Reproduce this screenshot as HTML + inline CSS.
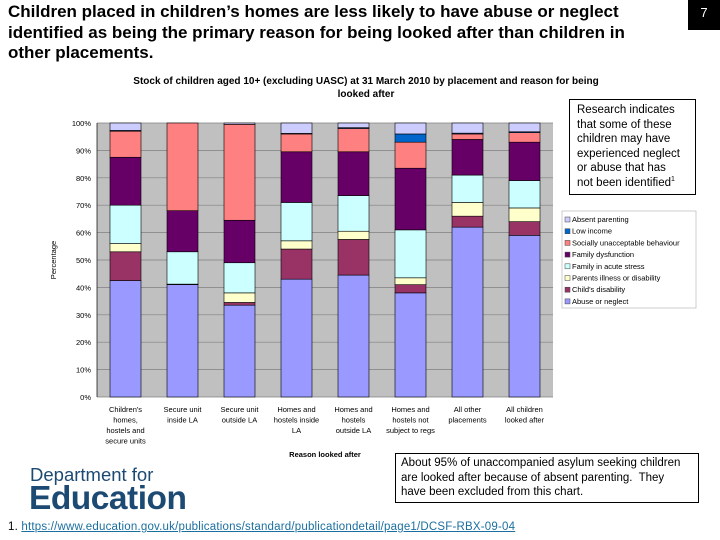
<!DOCTYPE html>
<html><head><meta charset="utf-8"><style>
body{margin:0;width:720px;height:540px;background:#fff;position:relative;overflow:hidden;font-family:"Liberation Sans",sans-serif}
.abs{position:absolute}
sup{line-height:0}
</style></head><body>
<div class="abs" style="left:8px;top:2px;width:680px;font-size:17px;font-weight:bold;line-height:20.5px;color:#000;white-space:nowrap">Children placed in children’s homes are less likely to have abuse or neglect<br>identified as being the primary reason for being looked after than children in<br>other placements.</div>
<div class="abs" style="left:688px;top:0;width:32px;height:30px;background:#000;color:#fff;font-size:13px;text-align:center;line-height:26px">7</div>
<div class="abs" style="left:569px;top:99px;width:118px;height:91px;border:1px solid #000;padding:3px 0 0 7px;font-size:11.5px;line-height:14.5px;white-space:nowrap">Research indicates<br>that some of these<br>children may have<br>experienced neglect<br>or abuse that has<br>not been identified<sup style="font-size:7px">1</sup></div>
<div class="abs" style="left:395px;top:453px;width:297px;height:46px;border:1px solid #000;padding:2px 0 0 5px;font-size:11.5px;line-height:14.5px;white-space:nowrap">About 95% of unaccompanied asylum seeking children<br>are looked after because of absent parenting.&nbsp; They<br>have been excluded from this chart.</div>
<div class="abs" style="left:30px;top:464px;font-size:18.5px;color:#1c4a72;line-height:22px">Department for</div>
<div class="abs" style="left:29px;top:478px;font-size:33.5px;font-weight:bold;color:#1c4a72;letter-spacing:-0.5px;line-height:42px">Education</div>
<div class="abs" style="left:8px;top:521px;font-size:11.5px;letter-spacing:0.2px">1. <a style="color:#1a6fa0;text-decoration:underline">https://www.education.gov.uk/publications/standard/publicationdetail/page1/DCSF-RBX-09-04</a></div>
<svg class="abs" style="left:0;top:0" width="720" height="540" id="chart"></svg>
<script>
const categories=[["Children's","homes,","hostels and","secure units"],["Secure unit","inside LA"],["Secure unit","outside LA"],["Homes and","hostels inside","LA"],["Homes and","hostels","outside LA"],["Homes and","hostels not","subject to regs"],["All other","placements"],["All children","looked after"]];
const seriesNames=["Abuse or neglect","Child's disability","Parents illness or disability","Family in acute stress","Family dysfunction","Socially unacceptable behaviour","Low income","Absent parenting"];
const abuse=[42.5,41,33.5,43,44.5,38,62,59];
const disability=[10.5,0.2,1,11,13,3,4,5];
const parents=[3,0,3.5,3,3,2.5,5,5];
const stress=[14,11.8,11,14,13,17.5,10,10];
const dysfunction=[17.5,15,15.5,18.5,16,22.5,13,14];
const social=[9.5,32,35,6.5,8.5,9.5,2,3.5];
const lowIncome=[0.3,0,0,0.2,0.3,3,0.3,0.3];
const absent=[2.7,0,0.5,3.8,1.7,4,3.7,3.2];
const yTicks=["0%","10%","20%","30%","40%","50%","60%","70%","80%","90%","100%"];
const series=[abuse,disability,parents,stress,dysfunction,social,lowIncome,absent];
const colors=["#9999ff","#993366","#ffffcc","#ccffff","#660066","#ff8080","#0066cc","#ccccff"];
const svg=document.getElementById('chart');const NS="http://www.w3.org/2000/svg";
function mk(t,a,p){const e=document.createElementNS(NS,t);for(const k in a)e.setAttribute(k,a[k]);(p||svg).appendChild(e);return e;}
const X0=97,X1=553,Y0=397,Y1=123;
const y=v=>Y0-(v/100)*(Y0-Y1);
const bw=(X1-X0)/categories.length;
const x=i=>X0+bw*i+bw/2;
let t=mk('text',{x:366,y:84,'font-size':10,'font-weight':'bold','text-anchor':'middle'});t.textContent="Stock of children aged 10+ (excluding UASC) at 31 March 2010 by placement and reason for being";

t=mk('text',{x:366,y:97,'font-size':10,'font-weight':'bold','text-anchor':'middle'});t.textContent="looked after";

let bg=mk('rect',{x:X0,y:Y1,width:X1-X0,height:Y0-Y1,fill:'#c0c0c0'});

yTicks.forEach((lab,i)=>{const v=i*10;
 const g=mk('line',{x1:X0,x2:X1,y1:y(v),y2:y(v),stroke:'#808080','stroke-width':0.7});
 
 const tx=mk('text',{x:X0-6,y:y(v)+3,'font-size':7.5,'text-anchor':'end',fill:'#000'});tx.textContent=lab;
 });
mk('line',{x1:X0,x2:X0,y1:Y1,y2:Y0,stroke:'#000','stroke-width':0.7});
categories.forEach((c,i)=>{let cum=0;
 series.forEach((s,k)=>{const v=s[i];if(v<=0)return;
  const r=mk('rect',{x:x(i)-15.5,y:y(cum+v),width:31,height:y(cum)-y(cum+v),fill:colors[k],stroke:'#000','stroke-width':0.6});
  cum+=v;});
 c.forEach((ln,j)=>{const tx=mk('text',{x:x(i),y:412+j*10.5,'font-size':7.5,'text-anchor':'middle'});tx.textContent=ln;
  });
});
t=mk('text',{x:325,y:457,'font-size':7.5,'font-weight':'bold','text-anchor':'middle'});t.textContent="Reason looked after";

t=mk('text',{x:56,y:260,'font-size':7.5,'text-anchor':'middle',transform:'rotate(-90 56 260)'});t.textContent="Percentage";

let lg=mk('rect',{x:562,y:211,width:134,height:97,fill:'#fff',stroke:'#c0c0c0','stroke-width':0.8});

for(let k=7;k>=0;k--){const row=7-k;const yy=222+row*11.7;
 const sw=mk('rect',{x:565,y:yy-5,width:5,height:5,fill:colors[k],stroke:'#444','stroke-width':0.5});
 
 const tx=mk('text',{x:572,y:yy,'font-size':7.5});tx.textContent=seriesNames[k];
 }
</script>
</body></html>
